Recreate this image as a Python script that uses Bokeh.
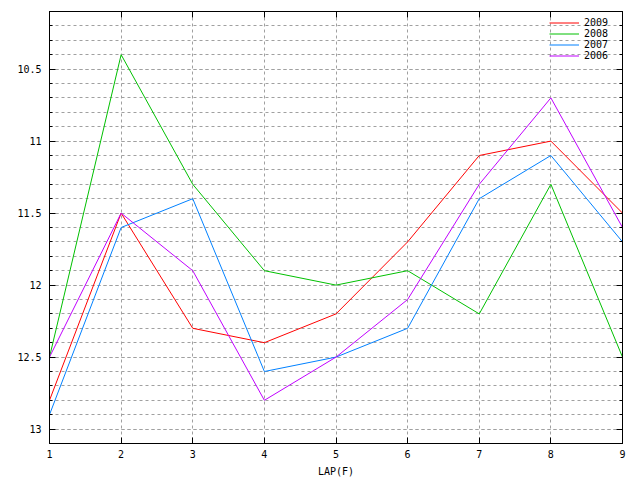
from bokeh.plotting import figure
from bokeh.models import (Range1d, LinearAxis, SingleIntervalTicker, NumeralTickFormatter,
                          Legend, LegendItem, CustomJSTickFormatter)
from bokeh.embed import file_html
from bokeh.resources import INLINE

laps = [1, 2, 3, 4, 5, 6, 7, 8, 9]
y2009 = [12.8, 11.5, 12.3, 12.4, 12.2, 11.7, 11.1, 11.0, 11.5]
y2008 = [12.5, 10.4, 11.3, 11.9, 12.0, 11.9, 12.2, 11.3, 12.5]
y2007 = [12.9, 11.6, 11.4, 12.6, 12.5, 12.3, 11.4, 11.1, 11.7]
y2006 = [12.5, 11.5, 11.9, 12.8, 12.5, 12.1, 11.3, 10.7, 11.6]
series_names = ["2009", "2008", "2007", "2006"]
series_values = [y2009, y2008, y2007, y2006]
colors = ["#ff0000", "#00c000", "#0080ff", "#c000ff"]

FONT = "DejaVu Sans Mono"
FS = "10px"

p = figure(width=640, height=480, output_backend="svg", toolbar_location=None,
           x_range=Range1d(1, 9), y_range=Range1d(13.1, 10.1),
           min_border_left=49, min_border_right=18, min_border_top=11, min_border_bottom=37)
p.background_fill_color = "white"
p.border_fill_color = "white"
p.outline_line_color = "black"
p.outline_line_width = 1

p.xaxis.ticker = SingleIntervalTicker(interval=1, num_minor_ticks=0)
p.yaxis.ticker = SingleIntervalTicker(interval=0.5, num_minor_ticks=5)
p.yaxis.formatter = NumeralTickFormatter(format="0.[0]")

for ax in (p.xaxis[0], p.yaxis[0]):
    ax.axis_line_color = "black"
    ax.major_tick_in = 6
    ax.major_tick_out = 0
    ax.minor_tick_in = 3
    ax.minor_tick_out = 0
    ax.major_tick_line_color = "black"
    ax.minor_tick_line_color = "black"
    ax.major_label_text_font = FONT
    ax.major_label_text_font_size = FS
    ax.major_label_text_color = "black"
p.yaxis.major_label_standoff = 8
p.xaxis.major_label_standoff = 6
p.xaxis.axis_label = "LAP(F)"
p.xaxis.axis_label_text_font = FONT
p.xaxis.axis_label_text_font_size = FS
p.xaxis.axis_label_text_font_style = "normal"
p.xaxis.axis_label_text_color = "black"
p.xaxis.axis_label_standoff = 5

blank = CustomJSTickFormatter(code="return '';")
ra = LinearAxis(ticker=SingleIntervalTicker(interval=0.5, num_minor_ticks=5), formatter=blank)
ta = LinearAxis(ticker=SingleIntervalTicker(interval=1, num_minor_ticks=0), formatter=blank)
for ax in (ra, ta):
    ax.major_tick_in = 6
    ax.major_tick_out = 0
    ax.minor_tick_in = 3
    ax.minor_tick_out = 0
    ax.major_label_standoff = 0
    ax.axis_line_color = "black"
p.add_layout(ra, "right")
p.add_layout(ta, "above")

p.xgrid.grid_line_color = "#a0a0a0"
p.xgrid.grid_line_dash = "3 3"
p.ygrid.grid_line_color = "#a0a0a0"
p.ygrid.grid_line_dash = "3 3"
p.ygrid.minor_grid_line_color = "#a0a0a0"
p.ygrid.minor_grid_line_dash = "3 3"

items = []
for name, vals, c in zip(series_names, series_values, colors):
    r = p.line(laps, vals, line_color=c, line_width=1)
    items.append(LegendItem(label=name, renderers=[r]))

leg = Legend(items=items, location=(498, 380))
leg.background_fill_alpha = 0
leg.border_line_alpha = 0
leg.label_text_font = FONT
leg.label_text_font_size = FS
leg.label_text_color = "black"
leg.glyph_width = 30
leg.glyph_height = 11
leg.label_height = 11
leg.spacing = 0
leg.padding = 2
leg.margin = 0
leg.label_standoff = 5
p.add_layout(leg)

open("out.html", "w").write(file_html(p, INLINE))
